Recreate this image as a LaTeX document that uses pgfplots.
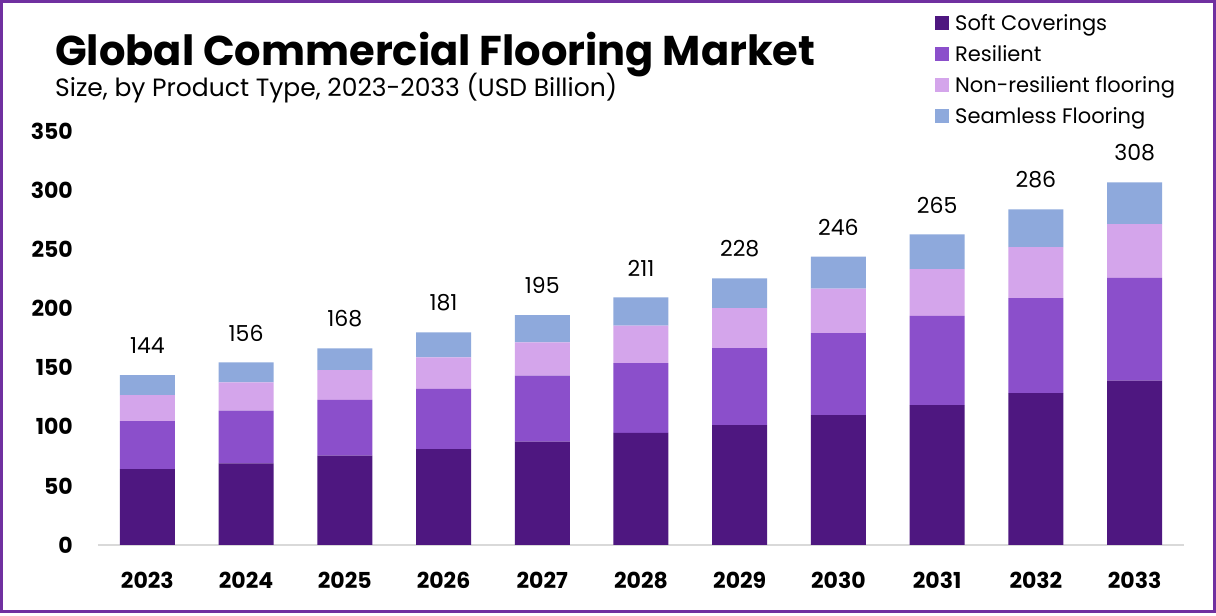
\documentclass[border=0pt]{standalone}
\usepackage{pgfplots}
\usepackage{pgfplotstable}
\pgfplotsset{compat=1.18}
\usepackage{fontspec}
\setmainfont{Poppins}
\definecolor{cSoft}{HTML}{4E1780}
\definecolor{cRes}{HTML}{8B4FCB}
\definecolor{cNon}{HTML}{D4A5EB}
\definecolor{cSeam}{HTML}{8EA9DC}
\definecolor{cFrame}{HTML}{7030A0}
\definecolor{cAxis}{HTML}{D9D9D9}
\pgfplotstableread{
x soft res non seam lab
0 64.2 40.6 22.0 16.9 144
1 69.0 44.5 24.0 16.9 156
2 75.5 47.1 25.3 18.4 168
3 81.1 50.8 26.8 21.1 181
4 87.3 55.8 28.2 23.1 195
5 94.7 59.1 31.6 24.0 211
6 101.4 65.1 33.8 25.1 228
7 109.9 69.3 37.5 27.0 246
8 118.3 75.3 39.7 29.3 265
9 128.5 80.3 43.1 31.9 286
10 138.9 87.0 45.4 35.3 308
}\datatable
\begin{document}
\begin{tikzpicture}
\useasboundingbox (0,0) rectangle (1216pt,616pt);
\fill[white] (0,0) rectangle (1216pt,616pt);
\draw[cFrame, line width=3pt] (1.5pt,4pt) rectangle (1214pt,614.5pt);
\node[anchor=base west, inner sep=0pt, font=\bfseries\fontsize{41.6}{46}\selectfont] at (55pt,550pt) {Global Commercial Flooring Market};
\node[anchor=base west, inner sep=0pt, font=\fontsize{25}{29}\selectfont] at (55pt,519pt) {Size, by Product Type, 2023-2033 (USD Billion)};
\begin{axis}[
  at={(98pt,71pt)}, anchor=south west,
  scale only axis, width=1086pt, height=414pt,
  ybar stacked, bar width=55pt,
  xmin=-0.5, xmax=10.5, ymin=0, ymax=350,
  ytick={0,50,...,350},
  xtick=data,
  xticklabels={2023,2024,2025,2026,2027,2028,2029,2030,2031,2032,2033},
  /pgf/number format/assume math mode=true,
  axis x line=bottom, axis y line=left,
  x axis line style={draw=cAxis, line width=2pt, -},
  y axis line style={draw=none, -},
  major tick length=0pt,
  xticklabel style={anchor=north, inner sep=0pt, yshift=-27pt, font=\bfseries\fontsize{22}{26}\selectfont},
  yticklabel style={anchor=east, inner sep=0pt, xshift=-25pt, font=\bfseries\fontsize{22}{26}\selectfont},
  legend cell align=left,
  legend style={draw=none, fill=none, inner sep=0pt, at={(axis description cs:0.7707,1.2802)}, anchor=north west,
    row sep=11pt, font=\fontsize{21}{25}\selectfont,
    nodes={inner sep=0pt, text height=15pt, text depth=5pt}},
  legend image code/.code={\fill[#1] (0pt,-5pt) rectangle (14pt,9pt);},
  clip=false,
]
\addplot[fill=cSoft, draw=none] table[x=x, y=soft] {\datatable};
\addlegendentry{\hspace{6pt}Soft Coverings}
\addplot[fill=cRes, draw=none] table[x=x, y=res] {\datatable};
\addlegendentry{\hspace{6pt}Resilient}
\addplot[fill=cNon, draw=none] table[x=x, y=non] {\datatable};
\addlegendentry{\hspace{6pt}Non-resilient flooring}
\addplot[fill=cSeam, draw=none, nodes near coords, point meta=explicit symbolic,
  visualization depends on={\thisrow{seam} \as \segh},
  every node near coord/.append style={font=\fontsize{22}{26}\selectfont, text=black, anchor=south, inner sep=0pt, yshift={(0.5914*\segh+21)*1pt}}]
  table[x=x, y=seam, meta=lab] {\datatable};
\addlegendentry{\hspace{6pt}Seamless Flooring}
\end{axis}
\end{tikzpicture}
\end{document}
